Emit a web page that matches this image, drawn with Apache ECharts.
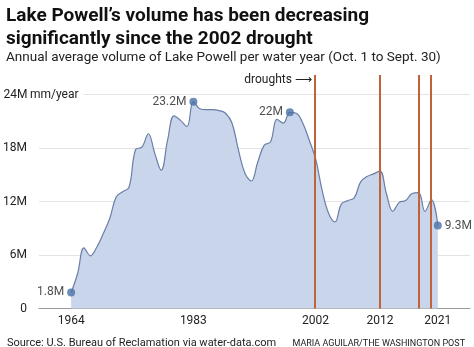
<!DOCTYPE html>
<html>
<head>
<meta charset="utf-8">
<script src="https://cdn.jsdelivr.net/npm/echarts@6/dist/echarts.min.js"></script>
<style>html,body{margin:0;padding:0;background:#fff;}#c{width:474px;height:347px;}</style>
</head>
<body>
<div id="c"></div>
<script>
const years = [1964,1965,1966,1967,1968,1969,1970,1971,1972,1973,1974,1975,1976,1977,1978,1979,1980,1981,1982,1983,1984,1985,1986,1987,1988,1989,1990,1991,1992,1993,1994,1995,1996,1997,1998,1999,2000,2001,2002,2003,2004,2005,2006,2007,2008,2009,2010,2011,2012,2013,2014,2015,2016,2017,2018,2019,2020,2021];
const volume = [1.8,3.9,6.8,5.9,6.9,8.4,10.1,12.5,13.1,13.6,17.8,18.1,19.6,17.4,15.5,18.9,21.6,21.1,20.4,23.2,22.4,22.3,22.3,22.2,21.9,20.8,17.8,15.2,14.3,16.4,18.3,18.7,21.2,20.8,22.0,21.9,20.8,18.9,16.8,13.3,10.7,9.7,11.7,12.1,12.4,14.2,14.8,15.1,15.4,12.9,10.9,11.9,12.1,12.9,13.0,10.9,12.2,9.3];
const droughtYears = [2002, 2012, 2018, 2020];
const xTickYears = [1964, 1983, 2002, 2012, 2021];
const yTicks = [0, 6, 12, 18, 24];
const yUnit = 'mm/year';
const highlightYears = [1964, 1983, 1998, 2021];
const highlightSide = ['left', 'left', 'left', 'right'];

const FONT = 'Roboto';
const chart = echarts.init(document.getElementById('c'), null, {renderer: 'canvas'});

const highlightData = highlightYears.map((y, i) => ({
  value: [y, volume[years.indexOf(y)]],
  label: {position: highlightSide[i]}
}));

const yMax = yTicks[yTicks.length - 1];

chart.setOption({
  animation: false,
  backgroundColor: '#fff',
  textStyle: {fontFamily: FONT},
  title: [
    {text: 'Lake Powell’s volume has been decreasing\nsignificantly since the 2002 drought', left: 1, top: 0,
     textStyle: {fontFamily: FONT, fontSize: 19, fontWeight: 'bold', color: '#111', lineHeight: 23}},
    {text: 'Annual average volume of Lake Powell per water year (Oct. 1 to Sept. 30)', left: 1, top: 46,
     textStyle: {fontFamily: FONT, fontSize: 13.5, fontWeight: 'normal', color: '#222'}},
    {text: 'Source: U.S. Bureau of Reclamation via water-data.com', left: 2, top: 333,
     textStyle: {fontFamily: FONT, fontSize: 11, fontWeight: 'normal', color: '#222'}},
    {text: 'MARIA AGUILAR/THE WASHINGTON POST', right: 4, top: 334,
     textStyle: {fontFamily: FONT, fontSize: 9, fontWeight: 'normal', color: '#222'}}
  ],
  grid: [
    {left: 37, right: 4, top: 94.5, bottom: 38.5},
    {left: 37, right: 4, top: 75, bottom: 38.5}
  ],
  xAxis: [
    {type: 'value', gridIndex: 0, min: 1959, max: 2026,
     axisLine: {show: true, lineStyle: {color: '#9a9a9a', width: 1}},
     axisTick: {show: false}, splitLine: {show: false},
     axisLabel: {customValues: xTickYears, formatter: v => String(v), color: '#222', fontSize: 12, margin: 6, fontFamily: FONT}},
    {type: 'value', gridIndex: 1, min: 1959, max: 2026, show: false}
  ],
  yAxis: [
    {type: 'value', gridIndex: 0, min: yTicks[0], max: yMax, interval: 6,
     axisLine: {show: false}, axisTick: {show: false},
     splitLine: {lineStyle: {color: '#e3e3e3', width: 1}},
     axisLabel: {
       align: 'left', margin: 35, color: '#222', fontSize: 12, fontFamily: FONT,
       formatter: v => {
         const t = v === 0 ? '0' : v + 'M';
         return v === yMax ? '{r|' + t + '}{n| ' + yUnit + '}' : '{r|' + t + '}';
       },
       rich: {
         r: {width: 23, align: 'right', color: '#222', fontSize: 12, fontFamily: FONT},
         n: {color: '#222', fontSize: 12, fontFamily: FONT, backgroundColor: '#fff', padding: [2, 5, 2, 0]}
       }
     }},
    {type: 'value', gridIndex: 1, min: 0, max: 1, show: false}
  ],
  series: [
    {type: 'line', xAxisIndex: 0, yAxisIndex: 0, smooth: 0.4, symbol: 'none',
     data: years.map((y, i) => [y, volume[i]]),
     lineStyle: {color: '#6a7ea8', width: 1.2},
     areaStyle: {color: '#c8d5ea', opacity: 1}, z: 2},
    {type: 'scatter', xAxisIndex: 0, yAxisIndex: 0, symbol: 'circle', symbolSize: 8,
     itemStyle: {color: '#4a70a8'},
     label: {show: true, formatter: p => p.value[1] + 'M', color: '#222', fontSize: 12, distance: 3, fontFamily: FONT},
     data: highlightData, z: 5},
    {type: 'line', xAxisIndex: 1, yAxisIndex: 1, symbol: 'none',
     data: [[droughtYears[0], 0]], lineStyle: {width: 0},
     markLine: {silent: true, symbol: ['none', 'none'], animation: false,
       lineStyle: {color: '#c0623a', width: 2, type: 'solid'}, label: {show: false},
       data: droughtYears.map(y => ({xAxis: y}))},
     markPoint: {silent: true, symbol: 'circle', symbolSize: 0,
       label: {show: true, position: 'left', distance: 3, formatter: 'droughts ⟶', color: '#222', fontSize: 12, fontFamily: FONT},
       data: [{coord: [droughtYears[0], 0.978]}]},
     z: 4}
  ]
});
</script>
</body>
</html>
